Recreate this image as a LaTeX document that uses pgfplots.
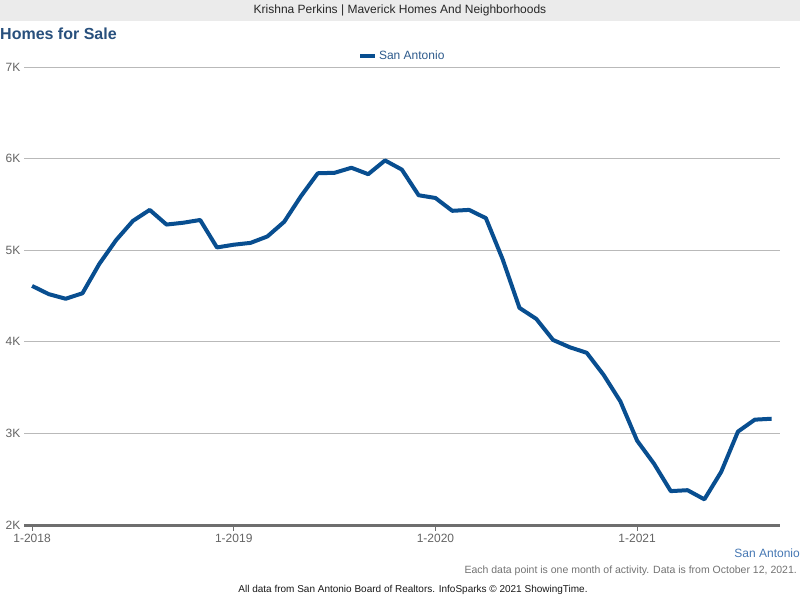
\documentclass[border=0pt]{standalone}
\usepackage{pgfplots}
\pgfplotsset{compat=1.18}
\usepackage{fontspec}
\setmainfont{Liberation Sans}
\definecolor{linec}{RGB}{8,78,144}
\definecolor{titlec}{RGB}{40,80,125}
\definecolor{legc}{RGB}{45,90,140}
\definecolor{sac}{RGB}{70,120,180}
\definecolor{gridc}{RGB}{185,185,185}
\definecolor{axc}{RGB}{110,110,110}
\definecolor{tickc}{RGB}{100,100,100}
\definecolor{barc}{RGB}{235,235,235}
\begin{document}
\begin{tikzpicture}[x=1pt,y=1pt]
\useasboundingbox (0,0) rectangle (800,600);
\fill[white] (0,0) rectangle (800,600);
\fill[barc] (0,579) rectangle (800,600);
\node[font=\fontsize{12}{14}\selectfont, text=black!85] at (400,589.5) {Krishna Perkins | Maverick Homes And Neighborhoods};
\node[anchor=west, font=\fontsize{16}{18}\selectfont\bfseries, text=titlec, inner sep=0pt] at (0,566) {Homes for Sale};
\begin{axis}[
  at={(24.5pt,75pt)}, anchor=south west,
  scale only axis, width=755.5pt, height=458pt,
  xmin=-0.45, xmax=44.5, ymin=2000, ymax=7000,
  axis y line=none, axis x line=none,
  ytick=\empty, xtick=\empty,
  clip=false,
  legend style={at={(0.5,1)}, anchor=south, yshift=4pt, draw=none, fill=none,
    font=\fontsize{12}{14}\selectfont, text=legc, inner sep=0pt},
  legend image code/.code={\draw[linec, line width=4pt] (0pt,0pt) -- (15pt,0pt);},
]
\pgfplotsextra{
  \foreach \v/\l in {2000/2K,3000/3K,4000/4K,5000/5K,6000/6K,7000/7K} {
    \node[anchor=east, font=\fontsize{12}{14}\selectfont, text=tickc, inner sep=0pt] at ([xshift=-4pt]axis cs:-0.45,\v) {\l};
  }
  \foreach \v in {3000,4000,5000,6000,7000} {
    \draw[gridc, line width=1pt] (axis cs:-0.45,\v) -- (axis cs:44.5,\v);
  }
  \draw[axc, line width=3pt] (axis cs:-0.45,2000) -- (axis cs:44.5,2000);
  \foreach \m/\l in {0/1-2018,12/1-2019,24/1-2020,36/1-2021} {
    \draw[axc, line width=1pt] (axis cs:\m,2000) -- ([yshift=-6pt]axis cs:\m,2000);
    \node[anchor=north, font=\fontsize{12}{14}\selectfont, text=tickc, inner sep=0pt] at ([yshift=-9pt]axis cs:\m,2000) {\l};
  }
}
\addplot[linec, line width=4pt, line join=round] coordinates {
(0,4610) (1,4520) (2,4470) (3,4530) (4,4850) (5,5110) (6,5320) (7,5440)
(8,5280) (9,5300) (10,5330) (11,5030) (12,5060) (13,5080) (14,5150) (15,5310)
(16,5590) (17,5840) (18,5845) (19,5900) (20,5830) (21,5980) (22,5880) (23,5600)
(24,5570) (25,5430) (26,5440) (27,5350) (28,4900) (29,4370) (30,4250) (31,4020)
(32,3940) (33,3880) (34,3640) (35,3350) (36,2920) (37,2670) (38,2370) (39,2380)
(40,2280) (41,2580) (42,3020) (43,3150) (44,3160)
};
\addlegendentry{San Antonio}
\end{axis}
\node[anchor=east, font=\fontsize{12}{14}\selectfont, text=sac, inner sep=0pt] at (800,47) {San Antonio};
\node[anchor=east, font=\fontsize{10.5}{13}\selectfont, text=black!55, inner sep=0pt] at (797,29) {Each data point is one month of activity. Data is from October 12, 2021.};
\node[font=\fontsize{10}{11}\selectfont, text=black!90, inner sep=0pt] at (413,10) {All data from San Antonio Board of Realtors. InfoSparks \textcopyright{} 2021 ShowingTime.};
\end{tikzpicture}
\end{document}
